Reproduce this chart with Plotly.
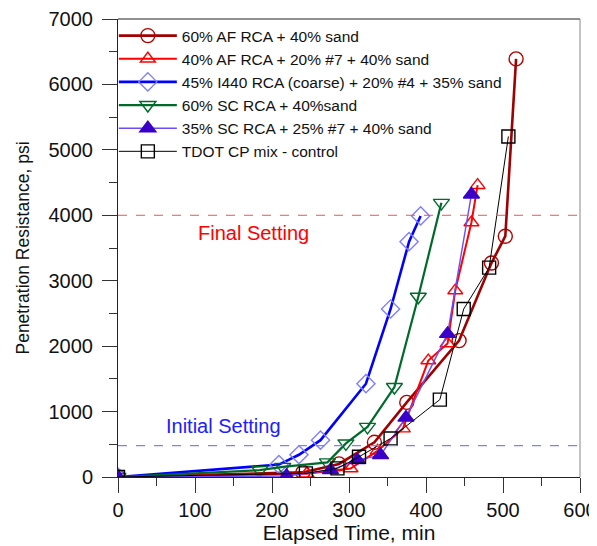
import plotly.graph_objects as go

# ---- data (elapsed time, min ; penetration resistance, psi) ----
names = [
    "60% AF RCA + 40% sand",
    "40% AF RCA + 20% #7 + 40% sand",
    "45% I440 RCA (coarse) + 20% #4 + 35% sand",
    "60% SC RCA + 40%sand",
    "35% SC RCA + 25% #7 + 40% sand",
    "TDOT CP mix - control",
]
t_af = [0, 240, 287, 333, 375, 443, 485, 503, 517]
p_af = [0, 70, 200, 530, 1140, 2085, 3270, 3680, 6390]

t_af7 = [0, 245, 302, 337, 370, 403, 428, 438, 459, 467]
p_af7 = [0, 50, 130, 400, 740, 1780, 2040, 2850, 3890, 4460]

t_i440 = [0, 209, 235, 263, 322, 354, 378, 393]
p_i440 = [0, 190, 340, 563, 1426, 2568, 3597, 3990]

t_sc = [0, 184, 214, 272, 296, 324, 359, 390, 420]
p_sc = [0, 105, 155, 224, 513, 766, 1375, 2755, 4190]

t_sc7 = [0, 219, 276, 311, 341, 374, 428, 459]
p_sc7 = [0, 15, 106, 259, 335, 908, 2187, 4318]

t_ctl = [0, 244, 285, 313, 354, 418, 449, 482, 507]
p_ctl = [0, 56, 132, 309, 589, 1183, 2568, 3200, 5205]

final_setting = 4000
initial_setting = 480

x_ticks = [0, 100, 200, 300, 400, 500, 600]
y_ticks = [0, 1000, 2000, 3000, 4000, 5000, 6000, 7000]

FONT = "Liberation Sans, Arial, sans-serif"

series = [
    (t_af, p_af, names[0], "#a00000", 2.6, "circle-open", "#b00000", 14),
    (t_af7, p_af7, names[1], "#ff0000", 2.0, "triangle-up-open", "#ff0000", 13),
    (t_i440, p_i440, names[2], "#0000ff", 2.6, "diamond-open", "#7f7fff", 14),
    (t_sc, p_sc, names[3], "#006a2a", 2.2, "triangle-down-open", "#006a2a", 14),
    (t_sc7, p_sc7, names[4], "#6a4cff", 1.4, "triangle-up", "#3a00c8", 14),
    (t_ctl, p_ctl, names[5], "#000000", 1.0, "square-open", "#000000", 13),
]

fig = go.Figure()
for x, y, nm, lc, lw, sym, mc, ms in series:
    fig.add_trace(go.Scatter(
        x=x, y=y, name=nm, mode="lines+markers",
        line=dict(color=lc, width=lw),
        marker=dict(symbol=sym, size=ms, color=mc, line=dict(color=mc, width=1.4)),
    ))

fig.add_hline(y=final_setting, line=dict(color="#ff5050", width=1, dash="dash"))
fig.add_hline(y=initial_setting, line=dict(color="#7f7fff", width=1.2, dash="dash"))

# frame: dark top edge, grey right edge
fig.add_shape(type="line", xref="paper", yref="paper", x0=0, x1=1, y0=1, y1=1,
              line=dict(color="#222222", width=1))
fig.add_shape(type="line", xref="paper", yref="paper", x0=1, x1=1, y0=0, y1=1,
              line=dict(color="#888888", width=1))

fig.add_annotation(x=176, y=3730, text="Final Setting", showarrow=False,
                   font=dict(family=FONT, size=20, color="#ff0000"))
fig.add_annotation(x=137, y=776, text="Initial Setting", showarrow=False,
                   font=dict(family=FONT, size=20, color="#2020ff"))

axis_common = dict(
    showgrid=False, zeroline=False, showline=True, linecolor="#222222",
    linewidth=1, ticks="outside", ticklen=15, tickwidth=1,
    tickcolor="#333333", tickfont=dict(family=FONT, size=20, color="#111111"),
    automargin=False, ticklabeloverflow="allow",
)
fig.update_xaxes(range=[0, 600], tickvals=x_ticks,
                 title=dict(text="Elapsed Time, min", font=dict(family=FONT, size=21, color="#111111"), standoff=4),
                 minor=dict(ticks="outside", ticklen=8, dtick=50, tickcolor="#333333"),
                 **axis_common)
fig.update_yaxes(range=[0, 7000], tickvals=y_ticks, ticklabelstandoff=5,
                 title=dict(text="Penetration Resistance, psi", font=dict(family=FONT, size=17.5, color="#111111"), standoff=14),
                 minor=dict(ticks="outside", ticklen=8, dtick=500, tickcolor="#333333"),
                 **axis_common)

# the page body adds an 8px offset, so the figure is sized to fit the 597x546 window
fig.update_layout(
    width=589, height=538,
    margin=dict(l=110, r=17, t=11, b=69),
    plot_bgcolor="white", paper_bgcolor="white",
    font=dict(family=FONT, color="#111111"),
    legend=dict(x=-0.009, y=1, xanchor="left", yanchor="top", bgcolor="rgba(0,0,0,0)",
                font=dict(family=FONT, size=15.5, color="#111111"),
                itemwidth=58, tracegroupgap=0),
)

fig.write_html("out.html")
